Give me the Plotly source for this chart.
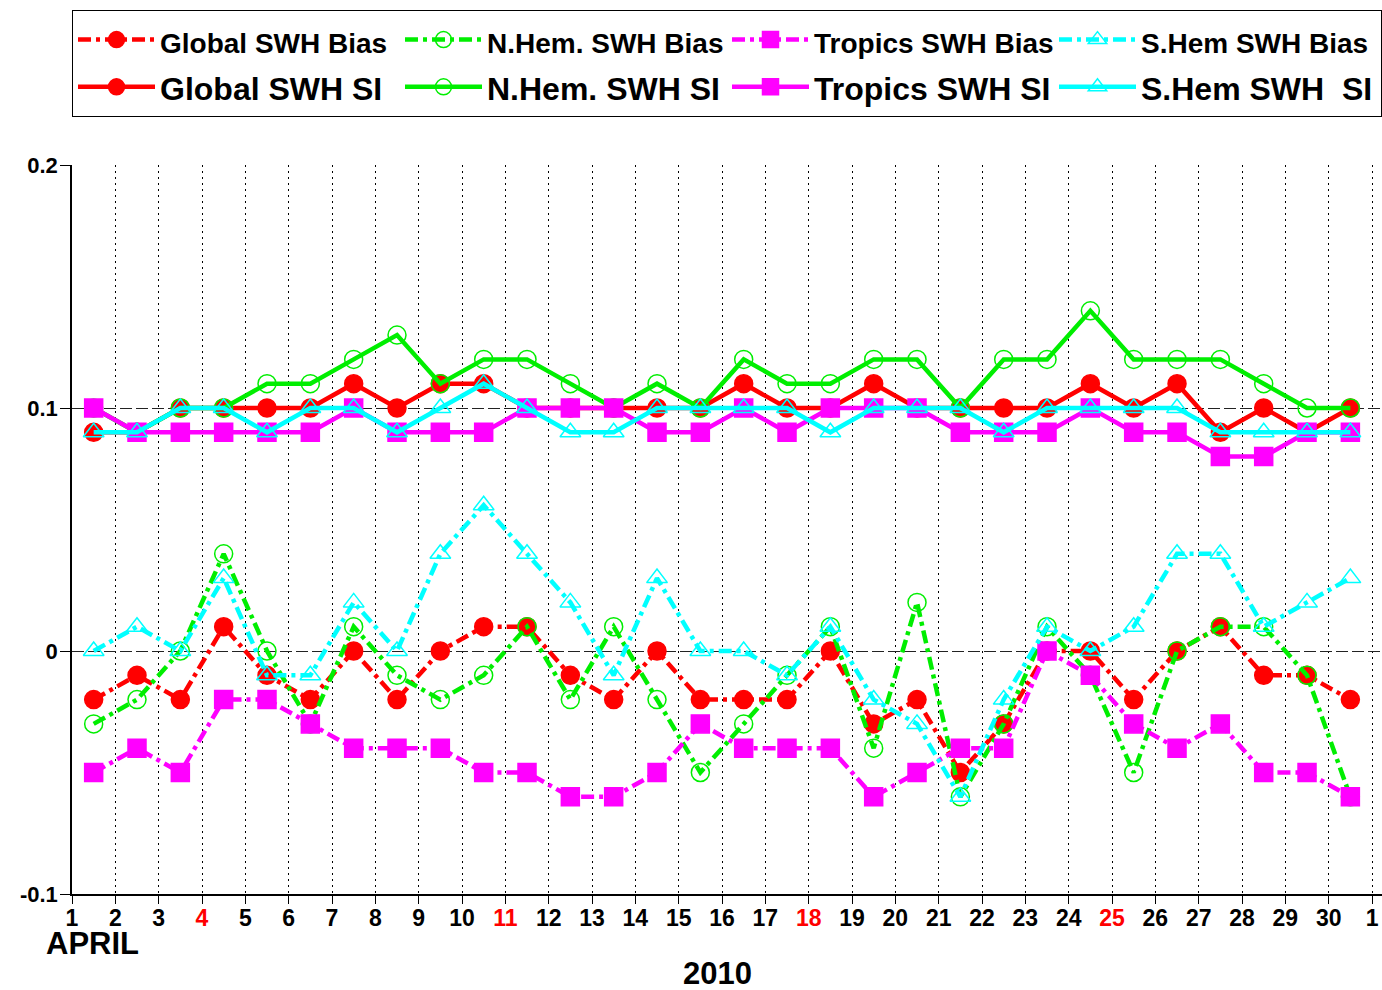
import plotly.graph_objects as go

# Day positions (values plotted at mid-day)
days = [d + 0.5 for d in range(1, 31)]

# SWH bias series
global_bias = [-0.02, -0.01, -0.02, 0.01, -0.01, -0.02, 0.00, -0.02, 0.00, 0.01,
               0.01, -0.01, -0.02, 0.00, -0.02, -0.02, -0.02, 0.00, -0.03, -0.02,
               -0.05, -0.03, 0.00, 0.00, -0.02, 0.00, 0.01, -0.01, -0.01, -0.02]
nhem_bias = [-0.03, -0.02, 0.00, 0.04, 0.00, -0.03, 0.01, -0.01, -0.02, -0.01,
             0.01, -0.02, 0.01, -0.02, -0.05, -0.03, -0.01, 0.01, -0.04, 0.02,
             -0.06, -0.03, 0.01, -0.01, -0.05, 0.00, 0.01, 0.01, -0.01, -0.06]
tropics_bias = [-0.05, -0.04, -0.05, -0.02, -0.02, -0.03, -0.04, -0.04, -0.04, -0.05,
                -0.05, -0.06, -0.06, -0.05, -0.03, -0.04, -0.04, -0.04, -0.06, -0.05,
                -0.04, -0.04, 0.00, -0.01, -0.03, -0.04, -0.03, -0.05, -0.05, -0.06]
shem_bias = [0.00, 0.01, 0.00, 0.03, -0.01, -0.01, 0.02, 0.00, 0.04, 0.06,
             0.04, 0.02, -0.01, 0.03, 0.00, 0.00, -0.01, 0.01, -0.02, -0.03,
             -0.06, -0.02, 0.01, 0.00, 0.01, 0.04, 0.04, 0.01, 0.02, 0.03]

# SWH scatter index series
global_si = [0.09, 0.09, 0.10, 0.10, 0.10, 0.10, 0.11, 0.10, 0.11, 0.11,
             0.10, 0.10, 0.10, 0.10, 0.10, 0.11, 0.10, 0.10, 0.11, 0.10,
             0.10, 0.10, 0.10, 0.11, 0.10, 0.11, 0.09, 0.10, 0.09, 0.10]
nhem_si = [0.10, 0.09, 0.10, 0.10, 0.11, 0.11, 0.12, 0.13, 0.11, 0.12,
           0.12, 0.11, 0.10, 0.11, 0.10, 0.12, 0.11, 0.11, 0.12, 0.12,
           0.10, 0.12, 0.12, 0.14, 0.12, 0.12, 0.12, 0.11, 0.10, 0.10]
tropics_si = [0.10, 0.09, 0.09, 0.09, 0.09, 0.09, 0.10, 0.09, 0.09, 0.09,
              0.10, 0.10, 0.10, 0.09, 0.09, 0.10, 0.09, 0.10, 0.10, 0.10,
              0.09, 0.09, 0.09, 0.10, 0.09, 0.09, 0.08, 0.08, 0.09, 0.09]
shem_si = [0.09, 0.09, 0.10, 0.10, 0.09, 0.10, 0.10, 0.09, 0.10, 0.11,
           0.10, 0.09, 0.09, 0.10, 0.10, 0.10, 0.10, 0.09, 0.10, 0.10,
           0.10, 0.09, 0.10, 0.10, 0.10, 0.10, 0.09, 0.09, 0.09, 0.09]

# Axis ticks
x_tick_vals = list(range(1, 32))
x_tick_labels = [str(d) for d in range(1, 31)] + ["1"]
sundays = ["4", "11", "18", "25"]
y_tick_vals = [-0.1, 0.0, 0.1, 0.2]
y_tick_labels = ["-0.1", "0", "0.1", "0.2"]

RED, GREEN, MAGENTA, CYAN = "#ff0000", "#00ee00", "#ff00ff", "#00ffff"
DASHDOT = "13px,5px,4px,5px"
FONT = "Liberation Sans, Arial, sans-serif"

series = [
    ("Global SWH Bias", global_bias, RED, "circle", DASHDOT, 28),
    ("N.Hem. SWH Bias", nhem_bias, GREEN, "circle-open", DASHDOT, 28),
    ("Tropics SWH Bias", tropics_bias, MAGENTA, "square", DASHDOT, 28),
    ("S.Hem SWH Bias", shem_bias, CYAN, "triangle-up-open", DASHDOT, 28),
    ("Global SWH SI", global_si, RED, "circle", "solid", 32),
    ("N.Hem. SWH SI", nhem_si, GREEN, "circle-open", "solid", 32),
    ("Tropics SWH SI", tropics_si, MAGENTA, "square", "solid", 32),
    ("S.Hem SWH&nbsp;&nbsp;SI", shem_si, CYAN, "triangle-up-open", "solid", 32),
]

fig = go.Figure()
for name, vals, color, symbol, dash, fsize in series:
    fig.add_trace(go.Scatter(
        x=days, y=vals, mode="lines+markers",
        name=f'<span style="font-size:{fsize}px">{name}</span>',
        line=dict(color=color, width=4.5, dash=dash),
        marker=dict(symbol=symbol, size=18, color=color,
                    line=dict(color=color, width=1.5)),
    ))

ticktext = [f'<span style="color:#ff0000">{t}</span>' if t in sundays else t
            for t in x_tick_labels]

fig.update_layout(
    width=1382, height=990,
    margin=dict(l=72, r=0, t=165, b=96, autoexpand=False),
    paper_bgcolor="white", plot_bgcolor="white",
    font=dict(family=FONT, color="black"),
    showlegend=True,
    legend=dict(
        orientation="h", x=0, xanchor="left", y=1.2126, yanchor="top",
        font=dict(family=FONT, size=34, color="black", weight="bold"),
        bordercolor="black", borderwidth=1, bgcolor="white",
        itemwidth=77, entrywidth=235, entrywidthmode="pixels",
        itemclick=False, itemdoubleclick=False,
    ),
    xaxis=dict(
        range=[1, 31.23], tickmode="array", tickvals=x_tick_vals, ticktext=ticktext,
        tickfont=dict(family=FONT, size=23, color="black", weight="bold"),
        showline=True, linecolor="black", linewidth=2,
        ticks="outside", ticklen=8, tickcolor="black", tickwidth=1,
        ticklabelstandoff=-6,
        showgrid=True, gridcolor="black", gridwidth=1, griddash="2px,4px",
        zeroline=False, fixedrange=True,
    ),
    yaxis=dict(
        range=[-0.1, 0.2], tickmode="array", tickvals=y_tick_vals, ticktext=y_tick_labels,
        tickfont=dict(family=FONT, size=22, color="black", weight="bold"),
        showline=True, linecolor="black", linewidth=1.5,
        ticks="outside", ticklen=10, tickcolor="black", tickwidth=1,
        ticklabelstandoff=-2,
        showgrid=True, gridcolor="#222222", gridwidth=1, griddash="12px,4px",
        zeroline=False, fixedrange=True,
    ),
    annotations=[
        dict(text="<b>APRIL</b>", xref="paper", yref="paper", x=0.016, y=-0.0685,
             xanchor="center", yanchor="middle", showarrow=False,
             font=dict(family=FONT, size=31, color="black")),
        dict(text="<b>2010</b>", xref="paper", yref="paper", x=0.4924, y=-0.1084,
             xanchor="center", yanchor="middle", showarrow=False,
             font=dict(family=FONT, size=31, color="black")),
    ],
)

fig.write_html(
    "out.html",
    config={"displayModeBar": False},
    post_script="document.body.style.margin='0';document.body.style.overflow='hidden';",
)
